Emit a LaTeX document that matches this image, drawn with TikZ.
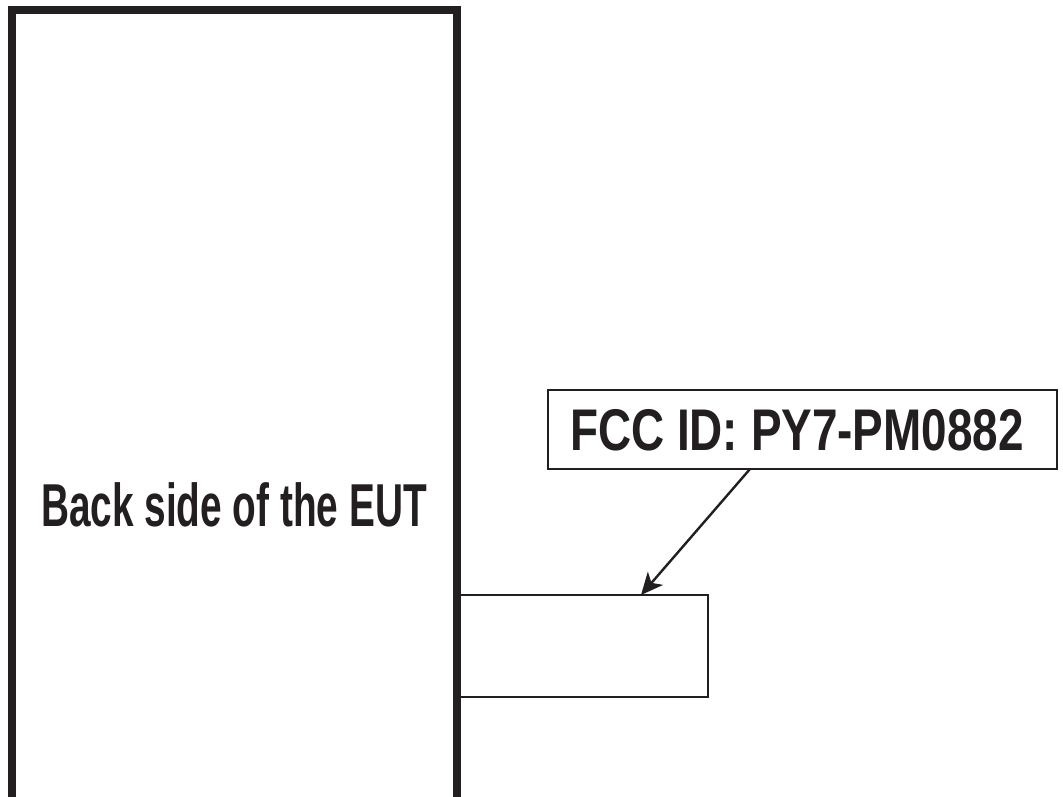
\documentclass[tikz,border=0pt]{standalone}
\usepackage{fontspec}
\usepackage{xcolor}
\usetikzlibrary{arrows.meta, positioning}
\newfontfamily\eutfont[FakeStretch=0.64]{Liberation Sans}
\newfontfamily\idfont[FakeStretch=0.78]{Liberation Sans}
\definecolor{InkBlack}{HTML}{231F20}

\begin{document}
\begin{tikzpicture}[x=0.5pt, y=-0.5pt,
    every node/.style={inner sep=0pt, outer sep=0pt, text=InkBlack},
    casing/.style={draw=InkBlack, line width=4pt},
    plate/.style={draw=InkBlack, line width=1.25pt}]
    \useasboundingbox (0,0) rectangle (1063,796);
    \clip (0,0) rectangle (1063,796);
    \node[casing,anchor=north west,minimum width=222.25pt,minimum height=500pt](eut)at(12,10.5){};
    \node[anchor=base,font=\eutfont\bfseries\fontsize{30.3pt}{32pt}\selectfont](eutlabel)at(234,526){Back side of the EUT};
    \node[plate,anchor=north west,minimum width=125.75pt,minimum height=51pt](tag)at(456.5,595){};
    \node[plate,minimum width=254.5pt,minimum height=39.5pt](fcc)at(802.5,429.5){};
    \node[anchor=base,font=\idfont\bfseries\fontsize{29.4pt}{31pt}\selectfont](fcclabel)at(797,450){FCC ID: PY7-PM0882};
    \draw[-{Stealth[length=11pt,width=10pt,inset=3pt]},line width=1.2pt,InkBlack](fcc.south -| 750,0)--(tag.north -| 641,0);
\end{tikzpicture}
\end{document}
